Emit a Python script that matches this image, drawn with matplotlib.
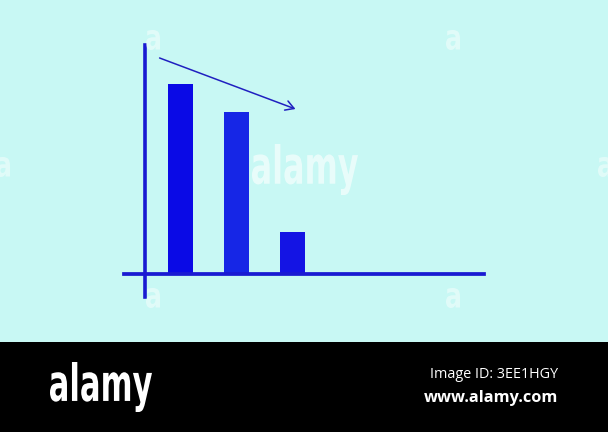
import matplotlib
matplotlib.use("Agg")
import matplotlib.pyplot as plt
from matplotlib.patches import FancyArrowPatch, PathPatch
from matplotlib.textpath import TextPath
from matplotlib.font_manager import FontProperties
from matplotlib.transforms import Affine2D, IdentityTransform

# bar chart sketch: three falling bars with a trend arrow
positions = [1, 2, 3]
values = [9.45, 8.05, 2.05]
bar_colors = ['#0a0ae6', '#1626e6', '#1414e4']

bg = '#c8f8f4'

fig = plt.figure(figsize=(6.08, 4.32), dpi=100)
fig.patch.set_facecolor('black')

ax = fig.add_axes([0, 90/432, 1, 342/432])
ax.set_facecolor(bg)
ax.set_xlim(-124.5/56, 483.5/56)
ax.set_ylim(-69/20, 273/20)
ax.set_xticks([])
ax.set_yticks([])
for s in ax.spines.values():
    s.set_visible(False)

ax.bar(positions, values, width=25/56, color=bar_colors, zorder=2)

# hand drawn axes
ax.plot([0.366, 0.366], [11.4, -1.2], color='#1a1ad2', lw=2.6, zorder=3)
ax.plot([0.0, 6.42], [-0.05, -0.05], color='#1a1ad2', lw=2.7, zorder=3)

# trend arrow
arr = FancyArrowPatch((0.58, 10.8), (3.10, 8.15), arrowstyle='->,head_length=6,head_width=3.5',
                      color='#2020c0', lw=1.1, zorder=4)
ax.add_patch(arr)


def boxed_word(word, x0, x1, ytop, ybot, alpha=1.0, zorder=6):
    # squeeze a bold word into a pixel box (top-left origin)
    tp = TextPath((0, 0), word, size=1, prop=FontProperties(family='DejaVu Sans', weight='bold'))
    ext = tp.get_extents()
    sx = (x1 - x0) / ext.width
    sy = (ybot - ytop) / ext.height
    tr = Affine2D().translate(-ext.x0, -ext.y0).scale(sx, sy).translate(x0, 432 - ybot)
    p = PathPatch(tr.transform_path(tp), facecolor='white', edgecolor='none',
                  alpha=alpha, transform=IdentityTransform(), zorder=zorder)
    fig.add_artist(p)


# watermarks
boxed_word('alamy', 252, 358, 144, 195, alpha=0.6)
for px, py in [(146, 30), (446, 30), (-4, 157), (598, 157), (146, 288), (446, 288)]:
    boxed_word('a', px, px + 14, py, py + 20, alpha=0.45)

# footer band
boxed_word('alamy', 50, 152, 362, 412)
fig.text(558/608, 1 - 375/432, 'Image ID: 3EE1HGY', color='white', fontsize=10.4,
         family=['Open Sans', 'DejaVu Sans'], ha='right', va='center')
fig.text(558/608, 1 - 398/432, 'www.alamy.com', color='white', fontsize=11.8,
         family=['Open Sans', 'DejaVu Sans'], fontweight='bold', ha='right', va='center')

fig.savefig('out.png', dpi=100, facecolor=fig.get_facecolor())
